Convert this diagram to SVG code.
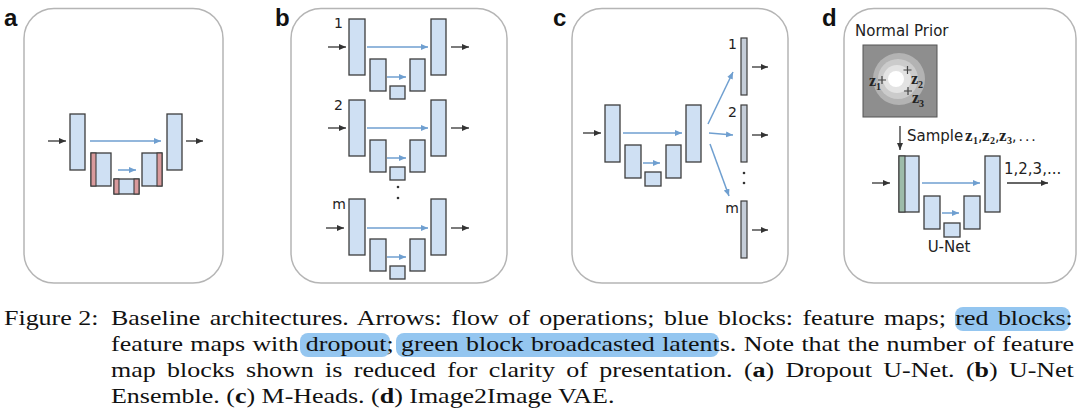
<svg xmlns="http://www.w3.org/2000/svg" width="1080" height="419" viewBox="0 0 1080 419">
<defs>
<marker id="mk" markerUnits="userSpaceOnUse" markerWidth="8" markerHeight="7" refX="7" refY="3" orient="auto"><path d="M0,0 L7,3 L0,6 z" fill="#333"/></marker>
<marker id="mb" markerUnits="userSpaceOnUse" markerWidth="8" markerHeight="7" refX="7" refY="3" orient="auto"><path d="M0,0 L7,3 L0,6 z" fill="#6f9fd0"/></marker>
</defs>
<style>
.panel{fill:#fff;stroke:#b5b5b5;stroke-width:1.5}
.blk{fill:#cfe0f3;stroke:#3d3d3d;stroke-width:1.3}
.red{fill:#d99a9c;stroke:#3d3d3d;stroke-width:1.1}
.grn{fill:#9dbcaa;stroke:#3d3d3d;stroke-width:1.1}
.head{fill:#c5cdd8;stroke:#3d3d3d;stroke-width:1.2}
.ak{stroke:#333;stroke-width:1.3;fill:none;marker-end:url(#mk)}
.ab{stroke:#6f9fd0;stroke-width:1.5;fill:none;marker-end:url(#mb)}
.lbl{font-family:"Liberation Sans",Arial,sans-serif;font-weight:bold;font-size:24px;fill:#111}
.sans{font-family:"DejaVu Sans",Verdana,sans-serif;font-size:15px;fill:#222}
.num{font-family:"DejaVu Sans",Verdana,sans-serif;font-size:14px;fill:#222}
.zb{font-family:"Liberation Serif","Times New Roman",serif;font-weight:bold;fill:#222}
.cm{font-family:"DejaVu Sans",Verdana,sans-serif;font-weight:normal;font-size:14px}
.cap{font-family:"Liberation Serif","Times New Roman",serif;font-size:22px;fill:#111}
.hl{fill:#94c6f0}
.dot{fill:#333}
.plus{stroke:#444;stroke-width:1.2;fill:none}
</style>

<!-- Panel frames -->
<g id="frames">
<rect class="panel" x="24" y="8.5" width="199" height="274.5" rx="30"/>
<rect class="panel" x="291" y="8.5" width="216" height="274.5" rx="30"/>
<rect class="panel" x="572" y="8.5" width="216" height="274.5" rx="30"/>
<rect class="panel" x="844" y="8.5" width="232" height="274.5" rx="30"/>
</g>

<g id="labels">
<text class="lbl" x="4" y="26">a</text>
<text class="lbl" x="275" y="26">b</text>
<text class="lbl" x="553" y="26">c</text>
<text class="lbl" x="822" y="26">d</text>
</g>

<!-- Panel a: Dropout U-Net -->
<g id="a-unet">
<rect class="blk" x="70" y="114" width="15" height="56"/>
<rect class="blk" x="91" y="153" width="20" height="33"/>
<rect class="red" x="91" y="153" width="5" height="33"/>
<rect class="blk" x="114" y="179" width="25" height="15"/>
<rect class="red" x="114" y="179" width="5" height="15"/>
<rect class="red" x="134" y="179" width="5" height="15"/>
<rect class="blk" x="142" y="153" width="20" height="33"/>
<rect class="red" x="157" y="153" width="5" height="33"/>
<rect class="blk" x="167" y="114" width="15" height="56"/>
</g>

<!-- Panel b: U-Net Ensemble -->
<g id="b-unet-1">
<text class="num" x="343" y="28" text-anchor="end">1</text>
<rect class="blk" x="349" y="19" width="16" height="56"/>
<rect class="blk" x="370" y="59" width="16" height="32"/>
<rect class="blk" x="390" y="86" width="15" height="13"/>
<rect class="blk" x="410" y="59" width="15" height="32"/>
<rect class="blk" x="431" y="19" width="15" height="56"/>
</g>
<g id="b-unet-2">
<text class="num" x="343" y="110" text-anchor="end">2</text>
<rect class="blk" x="349" y="100" width="16" height="56"/>
<rect class="blk" x="370" y="140" width="16" height="32"/>
<rect class="blk" x="390" y="167" width="15" height="13"/>
<rect class="blk" x="410" y="140" width="15" height="32"/>
<rect class="blk" x="431" y="100" width="15" height="56"/>
</g>
<g id="b-dots">
<circle class="dot" cx="398" cy="187" r="1.3"/>
<circle class="dot" cx="398" cy="198" r="1.3"/>
</g>
<g id="b-unet-m">
<text class="num" x="346" y="209" text-anchor="end">m</text>
<rect class="blk" x="349" y="199" width="16" height="56"/>
<rect class="blk" x="370" y="239" width="16" height="32"/>
<rect class="blk" x="390" y="266" width="15" height="13"/>
<rect class="blk" x="410" y="239" width="15" height="32"/>
<rect class="blk" x="431" y="199" width="15" height="56"/>
</g>

<!-- Panel c: M-Heads -->
<g id="c-unet">
<rect class="blk" x="605" y="105" width="15" height="57"/>
<rect class="blk" x="625" y="145" width="16" height="33"/>
<rect class="blk" x="645" y="172" width="16" height="14"/>
<rect class="blk" x="666" y="145" width="15" height="33"/>
<rect class="blk" x="686" y="105" width="15" height="57"/>
</g>
<g id="c-head-1">
<text class="num" x="737" y="49" text-anchor="end">1</text>
<rect class="head" x="741" y="38" width="6" height="57"/>
</g>
<g id="c-head-2">
<text class="num" x="737" y="117" text-anchor="end">2</text>
<rect class="head" x="741" y="105" width="6" height="57"/>
</g>
<g id="c-dots">
<circle class="dot" cx="744" cy="173" r="1.3"/>
<circle class="dot" cx="744" cy="183" r="1.3"/>
</g>
<g id="c-head-m">
<text class="num" x="739" y="213" text-anchor="end">m</text>
<rect class="head" x="741" y="201" width="6" height="57"/>
</g>

<!-- Panel d: Image2Image VAE -->
<g id="d-prior">
<text class="sans" x="855" y="36">Normal Prior</text>
<rect x="863" y="45" width="74" height="72" fill="#8e8e8e" stroke="#555" stroke-width="1"/>
<circle cx="899" cy="79" r="26" fill="#b3b3b3"/>
<circle cx="898" cy="79" r="20" fill="#cbcbcb"/>
<circle cx="897" cy="79" r="14" fill="#e3e3e3"/>
<circle cx="896" cy="79" r="8" fill="#ffffff"/>
<path class="plus" d="M878,80 h8 M882,76 v8 M903.5,70 h8 M907.5,66 v8 M904,91 h8 M908,87 v8"/>
<text class="zb" x="869" y="86" font-size="16">z<tspan font-size="10" dy="4">1</tspan></text>
<text class="zb" x="911" y="84" font-size="16">z<tspan font-size="10" dy="4">2</tspan></text>
<text class="zb" x="912" y="103" font-size="16">z<tspan font-size="10" dy="4">3</tspan></text>
</g>
<g id="d-sample">
<text class="sans" x="907" y="141" font-size="14">Sample</text>
<text class="zb" y="141" font-size="17"><tspan x="965">z</tspan><tspan x="973" font-size="10" dy="3">1</tspan><tspan class="cm" x="978" dy="-3">,</tspan><tspan x="982">z</tspan><tspan x="990" font-size="10" dy="3">2</tspan><tspan class="cm" x="995" dy="-3">,</tspan><tspan x="999">z</tspan><tspan x="1007" font-size="10" dy="3">3</tspan><tspan class="cm" x="1012" dy="-3" letter-spacing="2">,...</tspan></text>
</g>
<g id="d-unet">
<rect class="blk" x="899" y="156" width="20" height="56"/>
<rect class="grn" x="899" y="156" width="6" height="56"/>
<rect class="blk" x="924" y="196" width="16" height="33"/>
<rect class="blk" x="944" y="223" width="16" height="14"/>
<rect class="blk" x="964" y="196" width="16" height="33"/>
<rect class="blk" x="985" y="156" width="15" height="56"/>
<text class="sans" x="949" y="252" text-anchor="middle">U-Net</text>
</g>
<g id="d-output">
<text class="sans" x="1004" y="174">1,2,3,...</text>
</g>

<!-- Connectors -->
<g id="connectors">
<!-- a -->
<line class="ak" x1="48" y1="141" x2="66" y2="141"/>
<line class="ak" x1="186" y1="141" x2="203" y2="141"/>
<line class="ab" x1="90" y1="141" x2="161" y2="141"/>
<line class="ab" x1="118" y1="170" x2="136" y2="170"/>
<!-- b unit 1 -->
<line class="ak" x1="328" y1="47" x2="346" y2="47"/>
<line class="ak" x1="451" y1="47" x2="469" y2="47"/>
<line class="ab" x1="367" y1="47" x2="428" y2="47"/>
<line class="ab" x1="387" y1="77" x2="406" y2="77"/>
<!-- b unit 2 -->
<line class="ak" x1="328" y1="128" x2="346" y2="128"/>
<line class="ak" x1="451" y1="128" x2="469" y2="128"/>
<line class="ab" x1="367" y1="128" x2="428" y2="128"/>
<line class="ab" x1="387" y1="158" x2="406" y2="158"/>
<!-- b unit m -->
<line class="ak" x1="326" y1="228" x2="344" y2="228"/>
<line class="ak" x1="451" y1="228" x2="469" y2="228"/>
<line class="ab" x1="367" y1="228" x2="428" y2="228"/>
<line class="ab" x1="387" y1="257" x2="406" y2="257"/>
<!-- c -->
<line class="ak" x1="583" y1="133" x2="601" y2="133"/>
<line class="ab" x1="623" y1="133" x2="682" y2="133"/>
<line class="ab" x1="643" y1="163" x2="660" y2="163"/>
<line class="ab" x1="708" y1="124" x2="733" y2="72"/>
<line class="ab" x1="709" y1="133" x2="733" y2="135"/>
<line class="ab" x1="710" y1="144" x2="729" y2="196"/>
<line class="ak" x1="752" y1="67" x2="768" y2="67"/>
<line class="ak" x1="752" y1="135" x2="768" y2="135"/>
<line class="ak" x1="752" y1="230" x2="768" y2="230"/>
<!-- d -->
<line class="ak" x1="900" y1="126" x2="900" y2="150"/>
<line class="ak" x1="872" y1="183" x2="890" y2="183"/>
<line class="ab" x1="922" y1="183" x2="980" y2="183"/>
<line class="ab" x1="942" y1="213" x2="959" y2="213"/>
<line class="ak" x1="1007" y1="183" x2="1048" y2="183"/>
</g>

<!-- Caption -->
<g id="caption-highlights">
<rect class="hl" x="955" y="307" width="115" height="24" rx="8"/>
<rect class="hl" x="300" y="333" width="90" height="24" rx="8"/>
<rect class="hl" x="396" y="333" width="323" height="24" rx="8"/>
</g>
<g id="caption" transform="scale(1.18,1)">
<text class="cap" x="3.4" y="325">Figure 2:</text>
<text class="cap" x="94.07" y="325" word-spacing="2.5">Baseline architectures. Arrows: flow of operations; blue blocks: feature maps; red blocks:</text>
<text class="cap" x="94.07" y="351" word-spacing="0.7">feature maps with dropout; green block broadcasted latents. Note that the number of feature</text>
<text class="cap" x="94.07" y="377" word-spacing="4.1">map blocks shown is reduced for clarity of presentation. (<tspan font-weight="bold">a</tspan>) Dropout U-Net. (<tspan font-weight="bold">b</tspan>) U-Net</text>
<text class="cap" x="94.07" y="403">Ensemble. (<tspan font-weight="bold">c</tspan>) M-Heads. (<tspan font-weight="bold">d</tspan>) Image2Image VAE.</text>
</g>
</svg>
